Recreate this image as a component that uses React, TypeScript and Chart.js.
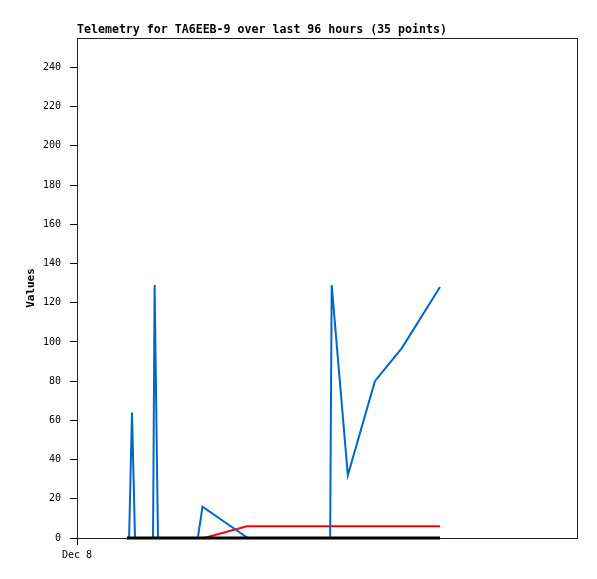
import React, { useEffect, useRef } from "react";
import { Chart, registerables } from "chart.js";

Chart.register(...registerables);

const TITLE = "Telemetry for TA6EEB-9 over last 96 hours (35 points)";
const Y_LABEL = "Values";
const X_TICK_LABEL = "Dec 8";

// x in hours since Dec 8 00:00
const blueHours = [9.6, 10.0, 10.56, 11.14, 14.6, 14.9, 15.55, 23.2, 24.1, 32.8, 48.6, 48.9, 52.0, 57.2, 62.4, 69.7];
const blueValues = [0, 0, 64, 0, 0, 129, 0, 0, 16, 0, 0, 129, 32, 80, 97, 128];

const redHours = [9.6, 24.4, 32.6, 69.7];
const redValues = [0, 0, 6, 6];

const blackHours = [9.6, 69.7];
const blackValues = [0, 0];

const Y_MAX = 255;
const X_MAX = 96;

const toPts = (xs: number[], ys: number[]) => xs.map((x, i) => ({ x, y: ys[i] }));

const framePlugin = {
  id: "frame",
  beforeDatasetsDraw(chart: any) {
    const { ctx, chartArea } = chart;
    ctx.save();
    ctx.strokeStyle = "#222";
    ctx.lineWidth = 1;
    ctx.strokeRect(chartArea.left + 0.5, chartArea.top + 0.5, chartArea.right - chartArea.left, chartArea.bottom - chartArea.top);
    ctx.restore();
  },
  afterDraw(chart: any) {
    const { ctx, chartArea } = chart;
    ctx.save();
    ctx.fillStyle = "#000";
    ctx.font = "bold 11.6px 'DejaVu Sans Mono', monospace";
    ctx.textAlign = "left";
    ctx.textBaseline = "alphabetic";
    ctx.fillText(TITLE, chartArea.left, 33);
    ctx.restore();
  },
};

export default function App() {
  const ref = useRef<HTMLCanvasElement>(null);
  useEffect(() => {
    document.body.style.margin = "0";
    const chart = new Chart(ref.current!, {
      type: "line",
      data: {
        datasets: [
          { data: toPts(blackHours, blackValues), borderColor: "#000000", borderWidth: 3, pointRadius: 0, tension: 0, clip: 4 },
          { data: toPts(blueHours, blueValues), borderColor: "#0066cc", borderWidth: 2, pointRadius: 0, tension: 0, clip: 4 },
          { data: toPts(redHours, redValues), borderColor: "#ff0000", borderWidth: 2, pointRadius: 0, tension: 0, clip: 4 },
        ],
      },
      options: {
        animation: false,
        responsive: false,
        layout: { padding: { top: 38, right: 20, left: 0, bottom: 0 } },
        plugins: { legend: { display: false }, title: { display: false }, tooltip: { enabled: false } },
        scales: {
          x: {
            type: "linear",
            min: 0,
            max: X_MAX,
            border: { display: false },
            grid: { drawOnChartArea: false, tickLength: 7, color: "#000" },
            afterBuildTicks: (s: any) => { s.ticks = [{ value: 0 }]; },
            afterFit: (s: any) => { s.height = 41; },
            ticks: {
              autoSkip: false,
              maxRotation: 0,
              padding: 4,
              color: "#000",
              font: { family: "'DejaVu Sans Mono', monospace", size: 10 },
              callback: () => X_TICK_LABEL,
            },
          },
          y: {
            min: 0,
            max: Y_MAX,
            border: { display: false },
            grid: { drawOnChartArea: false, tickLength: 7, color: "#000" },
            afterBuildTicks: (s: any) => { s.ticks = s.ticks.filter((t: any) => t.value % 20 === 0); },
            afterFit: (s: any) => { s.width = 77; },
            ticks: {
              stepSize: 20,
              padding: 9,
              color: "#000",
              font: { family: "'DejaVu Sans Mono', monospace", size: 10 },
            },
            title: {
              display: true,
              text: Y_LABEL,
              color: "#000",
              padding: { top: 25, bottom: 0 },
              font: { family: "'DejaVu Sans Mono', monospace", size: 11, weight: "bold" },
            },
          },
        },
      },
      plugins: [framePlugin],
    } as any);
    return () => chart.destroy();
  }, []);
  return (
    <div style={{ width: 597, height: 579 }}>
      <canvas ref={ref} width={597} height={579} />
    </div>
  );
}
